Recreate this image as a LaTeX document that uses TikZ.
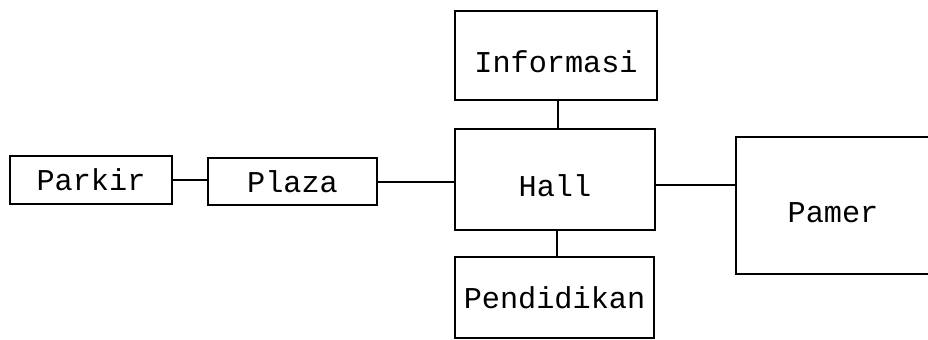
\documentclass[tikz,border=0pt]{standalone}
\usepackage{fontspec}
\setmonofont{Liberation Mono}
\usetikzlibrary{calc}

\begin{document}
\begin{tikzpicture}[
      x=0.025cm,
      y=-0.025cm,
      font=\ttfamily\fontsize{21.5pt}{26pt}\selectfont,
      room/.style={draw=black, line width=1.3pt, inner sep=0pt},
      link/.style={draw=black, line width=1.3pt},
      lowered/.style={text height=#1, text depth=0pt}
  ]
    \useasboundingbox (0,0) rectangle (928,340);
    % rooms
    \node[room, minimum width=4.05cm, minimum height=1.2cm] (parkir) at (91,180) {Parkir};
    \node[room, minimum width=4.225cm, minimum height=1.175cm] (plaza) at (292.5,181.5) {Plaza};
    \node[room, minimum width=5.05cm, minimum height=2.225cm, lowered=0.87cm] (info) at (556,55.5) {Informasi};
    \node[room, minimum width=5cm, minimum height=2.525cm, lowered=0.83cm] (hall) at (555,179.5) {Hall};
    \node[room, minimum width=4.975cm, minimum height=2.025cm] (didik) at (554.5,297.5) {Pendidikan};
    \node[room, minimum width=4.85cm, minimum height=3.425cm, lowered=0.83cm] (pamer) at (833,205.5)
      {Pamer\hspace{0.25cm}};
    % links between rooms
    \draw[link] (parkir.east) -- (parkir.east -| plaza.west);
    \draw[link] ([yshift=-0.0125cm]plaza.east) -- ([yshift=-0.0125cm]plaza.east -| hall.west);
    \draw[link] ([xshift=0.05cm]info.south) -- ([xshift=0.05cm]info.south |- hall.north);
    \draw[link] ([xshift=0.05cm]hall.south) -- ([xshift=0.05cm]hall.south |- didik.north);
    \draw[link] ([yshift=-0.14cm]hall.east) -- ([yshift=-0.14cm]hall.east -| pamer.west);
  \end{tikzpicture}
\end{document}
